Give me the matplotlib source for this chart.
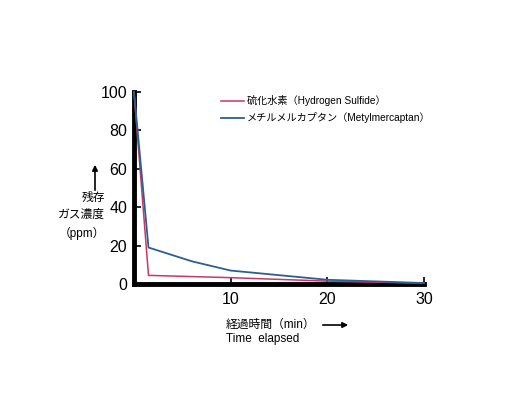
import matplotlib
matplotlib.use("Agg")
import matplotlib.pyplot as plt

plt.rcParams['font.family'] = ['Liberation Sans', 'Noto Sans CJK JP', 'DejaVu Sans']

# data
minutes_h2s = [0, 1.5, 10, 20, 30]
h2s = [100, 4.5, 3.3, 1.5, 0.4]
minutes_mm = [0, 1.5, 6, 10, 20, 30]
mm = [100, 19, 11.8, 7, 2.2, 0.5]
xticks = [10, 20, 30]
yticks = [0, 20, 40, 60, 80, 100]

red = '#c8366a'
blue = '#2b5f90'

fig = plt.figure(figsize=(5.09, 4.09), dpi=100)
ax = fig.add_axes([134/509, 1-284/409, 290/509, 192/409])

ax.plot(minutes_h2s, h2s, color=red, lw=1.1, zorder=3, clip_on=False,
        label='硫化水素（Hydrogen Sulfide）')
ax.plot(minutes_mm, mm, color=blue, lw=1.3, zorder=3, clip_on=False,
        label='メチルメルカプタン（Metylmercaptan）')

ax.set_xlim(0, 30)
ax.set_ylim(0, 100)
ax.set_xticks(xticks)
ax.set_yticks(yticks)
ax.tick_params(axis='both', direction='in', length=5, width=1.2, labelsize=11.5)
ax.tick_params(axis='y', pad=5)
ax.tick_params(axis='x', pad=6)
for s in ['top', 'right']:
    ax.spines[s].set_visible(False)
for s in ['left', 'bottom']:
    ax.spines[s].set_linewidth(3.5)
    ax.spines[s].set_capstyle('projecting')

ax.legend(loc='upper left', bbox_to_anchor=(0.27, 1.03), frameon=False,
          fontsize=7.3, handlelength=2.2, handletextpad=0.3, labelspacing=0.6)

# y axis caption with arrow
fig.text(105/509, 1-198/409, '残存', ha='right', va='center', fontsize=8.5)
fig.text(105/509, 1-215/409, 'ガス濃度', ha='right', va='center', fontsize=8.5)
fig.text(105/509, 1-233/409, '（ppm）', ha='right', va='center', fontsize=8.5)
fig.add_artist(matplotlib.patches.FancyArrowPatch(
    (95/509, 1-193/409), (95/509, 1-162/409), transform=fig.transFigure,
    arrowstyle='-|>', mutation_scale=8, lw=1.2, color='black'))

# x axis caption with arrow
fig.text(226/509, 1-325/409, '経過時間（min）', ha='left', va='center', fontsize=8.5)
fig.text(226/509, 1-339/409, 'Time  elapsed', ha='left', va='center', fontsize=8.5)
fig.add_artist(matplotlib.patches.FancyArrowPatch(
    (320/509, 1-325/409), (351/509, 1-325/409), transform=fig.transFigure,
    arrowstyle='-|>', mutation_scale=8, lw=1.2, color='black'))

fig.savefig('out.png', dpi=100)
